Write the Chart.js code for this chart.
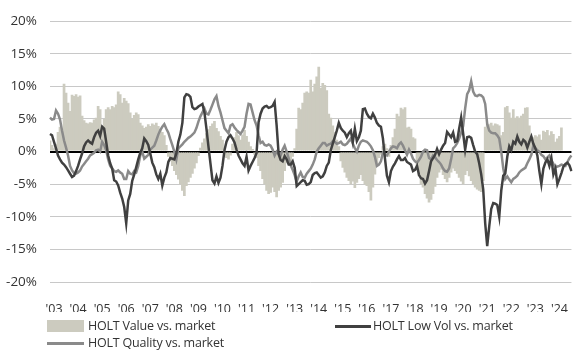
<!DOCTYPE html>
<html>
<head>
<meta charset="utf-8">
<script src="https://cdn.jsdelivr.net/npm/chart.js@4"></script>
<style>
  body { margin: 0; background: #fff; }
  #wrap { position: relative; width: 580px; height: 353px; font-family: 'Open Sans', sans-serif; color: #333; }
  .legend-item { position: absolute; font-size: 12.5px; letter-spacing: -0.2px; line-height: 16px; white-space: nowrap; }
  .swatch { position: absolute; }
</style>
</head>
<body>
<div id="wrap">
  <canvas id="chart" width="580" height="353"></canvas>
  <div class="swatch" style="left:47px;top:320px;width:37px;height:12px;background:#cccbbf;"></div>
  <div class="legend-item" style="left:88px;top:318px;">HOLT Value vs. market</div>
  <div class="swatch" style="left:335px;top:325px;width:36px;height:3px;background:#404040;"></div>
  <div class="legend-item" style="left:373px;top:318px;">HOLT Low Vol vs. market</div>
  <div class="swatch" style="left:47px;top:342px;width:37px;height:3px;background:#8a8a8a;"></div>
  <div class="legend-item" style="left:88px;top:335px;">HOLT Quality vs. market</div>
</div>
<script>
// monthly observations, Nov 2002 onwards (% relative to market)
const startYear = 2002;
const startMonth = 11;

const yearTicks = ["'03", "'04", "'05", "'06", "'07", "'08", "'09", "'10", "'11", "'12", "'13",
  "'14", "'15", "'16", "'17", "'18", "'19", "'20", "'21", "'22", "'23", "'24"];

const valueVsMarket = [
  1.7, 1, 0.5, 1.2, 3, 3.8, 3.5, 10.4, 9, 7.5,
  6.2, 8.7, 8.5, 8.8, 8.4, 8.6, 5.5, 4.8, 4.4, 4.3,
  4.5, 4.4, 4.9, 5.2, 7, 6.5, 4, 5, 6.5, 6.8,
  6.5, 7, 6.8, 7.2, 9.2, 8.8, 7.5, 8.2, 7.8, 7.4,
  6, 5, 5.6, 6, 5.7, 4.4, 4, 3.6, 3.8, 4.2,
  3.9, 4.3, 4.1, 4.4, 3.9, 3.5, 3, 2.5, 1, -0.8,
  -1.5, -2.2, -3, -3.6, -4.3, -5, -6, -6.8, -5.3, -4.7,
  -4, -3.4, -2.6, -1.8, -0.7, 0.6, 1.4, 2, 2.8, 3.4,
  3.9, 4.3, 4.7, 3.6, 3.1, 2.4, 1.8, -0.8, -1, -1.2,
  -0.6, 1.2, 2.2, 3, 2.5, 1.8, 2.6, 3.3, 2.4, 1.5,
  0.8, 0.4, -0.5, -1, -2.2, -3, -4.2, -5, -6, -6.5,
  -6.3, -5.5, -6.2, -7, -6, -5.5, -4.8, -3, -1.8, -1.2,
  -1.5, -0.8, 0.5, 3.5, 6.7, 6.5, 7.5, 9, 9.2, 9,
  11, 9.2, 10.4, 11.5, 13, 9.8, 10.5, 10.2, 9.4, 5.8,
  5.2, 4, 3, 1.8, 0.8, -1.5, -2.5, -3.2, -4, -4.5,
  -5, -4.6, -5.6, -4.8, -4.2, -3.6, -4.5, -5, -5.3, -6.2,
  -7.5, -5.5, -3.5, -2, -1, -0.5, 0.8, 1.2, 0.5, -0.8,
  1, 2.2, 3.5, 5.8, 5.4, 6.7, 6.5, 6.8, 3.7, 3.8,
  3.5, 2.2, 2, -2.5, -3.8, -5, -5.5, -6.5, -7.2, -7.8,
  -7.4, -6.5, -5.4, -4, -3.2, -2.8, -3.6, -4.2, -4.7, -4,
  -3.2, -2.6, -3, -3.4, -4, -4.6, -5, -3.6, -3, -3.8,
  -4.5, -5, -5.5, -5.8, -6, -6.2, -4.5, 3.8, 4.3, 4.2,
  4.4, 4, 4.3, 4.2, 4, 2.5, 3, 6.8, 7, 6,
  5.2, 6.5, 5.2, 5.4, 5.2, 5.5, 5.8, 6.7, 6.8, 4,
  2.4, 2.2, 2.5, 2.3, 2.6, 1.8, 3.2, 3, 3.3, 2.5,
  3.1, 2.7, 1.5, 2, 2.4, 3.7, null, null, null, null,
  null,
];

const lowVolVsMarket = [
  2.7, 2.5, 1.5, 0.5, -0.6, -1.2, -1.7, -2, -2.4, -2.9,
  -3.4, -3.9, -3.7, -3, -2.2, -1.2, -0.3, 0.8, 1.4, 1.7,
  1.4, 1.2, 2.2, 2.9, 3.2, 2.4, 3.8, 3.5, 1.5, -0.6,
  -1.8, -2.6, -4.4, -4.6, -5.2, -6.3, -7.2, -8.5, -11, -7.5,
  -6.5, -4.5, -3.5, -2.4, -1.2, -0.2, 0.5, 2, 1.6, 1,
  -0.3, -1.7, -2.4, -3.5, -4.2, -3.4, -5.2, -4, -3.2, -1.6,
  -1, -1.1, -1.2, -0.3, 1.5, 2.6, 4.4, 8.3, 8.8, 8.7,
  8.4, 6.8, 6.5, 6.6, 6.9, 7.1, 7.3, 6, 3.5, 0.8,
  -1.8, -4.4, -4.9, -3.8, -4.8, -4, -2.2, 0.2, 1.5, 2.2,
  2.5, 2, 1.4, 0.3, -0.6, -1.2, -1.8, -2.2, -0.8, -2.9,
  -2.2, -1.6, -1, -0.2, 4.5, 5.8, 6.6, 6.9, 7, 6.7,
  6.8, 7, 7.6, 4, -0.4, -1.3, -1.5, -0.7, -1.2, -2,
  -2, -1.5, -2.5, -5.3, -5, -4.7, -4.4, -4.5, -5.1, -5,
  -4.7, -3.6, -3.3, -3.2, -3.6, -4, -3.8, -3.2, -2.2, -1.7,
  0.2, 1.2, 2.2, 3.2, 4.4, 3.6, 3.2, 2.9, 2.2, 2.8,
  3.2, 1.5, 3.5, 1.6, 2.2, 3.2, 6.5, 6.6, 5.8, 5.3,
  5.1, 5.8, 5.2, 4.4, 4, 3.8, 2, -1, -3.7, -4.7,
  -3, -2.3, -1.8, -1.2, -0.7, -1.3, -1.3, -1, -1.6, -1.8,
  -2, -3, -2.8, -2.2, -3.6, -4.1, -4.2, -4.9, -4.4, -3,
  -1.5, -1, -0.5, 0.4, -0.4, 0.3, 0.9, 1.3, 3, 2.6,
  2.2, 2.9, 1.5, 1.6, 3.5, 5.2, 2.8, 0.3, 2.2, 2.3,
  2.1, 1, 0, -0.4, -1.8, -3.5, -5.8, -11, -14.5, -11.5,
  -8.8, -7.9, -8, -8.2, -10, -6, -3.7, -3.4, -0.8, 0.8,
  0.2, 1.5, 1.2, 2.3, 1.5, 1.1, 1.8, 1.5, 0.6, 1.5,
  2.3, 1.2, 0.5, -0.6, -3, -5, -2.6, -1.7, -1.2, -2.2,
  -1, -3.5, -2.6, -5, -4.2, -3.3, -2.3, -1.9, -1.7, -2.1,
  -3,
];

const qualityVsMarket = [
  5.2, 4.9, 5, 6.3, 5.8, 4.9, 3.2, 1.7, 0.6, -0.6,
  -2.2, -2.9, -3.3, -3.4, -3.2, -2.9, -2.3, -1.9, -1.5, -1.1,
  -0.6, -0.4, -0.2, 0.2, 0.3, 0, 1.5, 1, 0.2, -1.2,
  -2.2, -2.6, -3, -3.1, -2.9, -3.2, -3.4, -4.2, -4.2, -3,
  -3.4, -3.5, -3, -3.2, -2.2, -0.6, 0, -1.1, -0.8, -0.5,
  0.3, 0.6, 0.9, 1.7, 2.6, 3.3, 3.8, 4.2, 3.5, 2.9,
  1.9, 1, 0, -1.2, 0.5, 0.8, 1.1, 1.5, 1.8, 2.1,
  2.3, 2.6, 2.9, 3.6, 4.6, 5.4, 6, 6.6, 5.8, 5.7,
  6.4, 7.2, 8, 8.5, 7, 6, 4.8, 3.6, 3.2, 2.8,
  4, 4.2, 3.7, 3.3, 3, 2.7, 3.2, 3.8, 5.8, 7.3,
  7.2, 6, 4.8, 4, 2.5, 1.3, 1.5, 1, 0.9, 1.1,
  0.9, 0.3, -0.6, 0, -0.3, -0.6, 0.3, 0.9, 0, -1,
  -2.1, -2.8, -3.6, -4.6, -3.8, -3.2, -3.9, -4, -3.4, -3,
  -2.6, -2, -1.2, 0, 0.5, 0.9, 1.3, 1.3, 0.9, 1.1,
  1.2, 1.6, 1.5, 1.2, 1.3, 1.5, 1.1, 1, 1.2, 1.6,
  2, 1.2, 0.5, 0, 0.9, 1.5, 1.7, 1.6, 1.5, 1.2,
  0.8, 0.2, -0.8, -2.2, -2, -1.5, -0.2, -0.4, -0.6, 0,
  0.5, 0.8, 0.7, 0.5, 1.1, 1.4, 0.9, 0.2, -0.5, 0.3,
  -0.3, -1.1, -1.5, -1.7, -1.3, -0.8, 0, 0.3, 0.2, -1,
  -1.2, -0.6, -0.9, -1.3, -1.6, -2, -2.6, -3, -3.1, -2.6,
  -1.2, 0.5, 0.8, 1.3, 2, 2.9, 3.9, 6.6, 8.8, 9.4,
  10.8, 9.2, 8.6, 8.5, 8.7, 8.6, 8.3, 7.3, 4.2, 3.2,
  2.9, 2.8, 2.8, 2.5, 2, 0, -2.6, -4.2, -3.8, -4.3,
  -4.7, -4.2, -4, -3.7, -3.2, -2.9, -2.7, -2.5, -1.8, -1.2,
  -0.5, 0.9, 0.5, 0.2, 0, -0.5, -0.7, -1.2, -0.9, -0.6,
  -1.3, -1.9, -2.4, -2.3, -2.2, -2, -2.1, -2.2, -1.6, -1,
  -0.6,
];

const months = lowVolVsMarket.map((_, i) => {
  const m = startMonth - 1 + i;
  return { year: startYear + Math.floor(m / 12), month: (m % 12) + 1 };
});
const labels = months.map((d) => `${d.year}-${String(d.month).padStart(2, '0')}`);

const fontFamily = "'Open Sans', sans-serif";

new Chart(document.getElementById('chart'), {
  type: 'bar',
  data: {
    labels,
    datasets: [
      {
        type: 'line',
        label: 'HOLT Low Vol vs. market',
        data: lowVolVsMarket,
        borderColor: '#404040',
        borderWidth: 2.5,
        pointRadius: 0,
        tension: 0,
        order: 1,
      },
      {
        type: 'line',
        label: 'HOLT Quality vs. market',
        data: qualityVsMarket,
        borderColor: '#8a8a8a',
        borderWidth: 2.5,
        pointRadius: 0,
        tension: 0,
        order: 2,
      },
      {
        label: 'HOLT Value vs. market',
        data: valueVsMarket,
        backgroundColor: '#cccbbf',
        borderWidth: 0,
        barPercentage: 1.35,
        categoryPercentage: 1,
        order: 3,
      },
    ],
  },
  options: {
    responsive: false,
    animation: false,
    layout: { padding: { top: 20, right: 3, bottom: 41, left: 0 } },
    plugins: {
      legend: { display: false },
      tooltip: { enabled: false },
    },
    scales: {
      x: {
        offset: false,
        grid: { display: false },
        border: { display: false },
        afterFit(scale) { scale.height = 30; },
        ticks: {
          autoSkip: false,
          maxRotation: 0,
          minRotation: 0,
          padding: 12,
          color: '#333',
          font: { family: fontFamily, size: 12.5 },
          callback(value, index) {
            const d = months[index];
            return d.month === 1 ? yearTicks[d.year - 2003] : null;
          },
        },
      },
      y: {
        min: -20,
        max: 20,
        afterFit(scale) { scale.width = 50; },
        border: { display: false },
        grid: {
          drawTicks: false,
          color: (ctx) => (ctx.tick && ctx.tick.value === 0 ? '#000' : '#c8c8c8'),
          lineWidth: (ctx) => (ctx.tick && ctx.tick.value === 0 ? 2 : 1),
        },
        ticks: {
          stepSize: 5,
          padding: 13,
          color: '#333',
          font: { family: fontFamily, size: 13.5 },
          callback: (v) => `${v}%`,
        },
      },
    },
  },
});
</script>
</body>
</html>
